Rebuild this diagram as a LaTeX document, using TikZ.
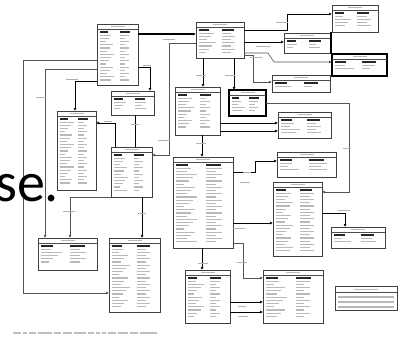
\documentclass[tikz,border=0pt]{standalone}
\usepackage{fontspec}
\newfontfamily\slidefont{Carlito}
\usetikzlibrary{arrows.meta,calc}

\tikzset{
  entbox/.style={draw=black!75, line width=0.8pt, fill=white, inner sep=0pt, outer sep=0pt},
  heavy/.style={line width=1.5pt, draw=black},
  rowink/.style={draw=gray!55, line width=1.1pt},
  headink/.style={draw=black!85, line width=1.3pt},
  conn/.style={draw=gray!65!black, line width=0.6pt},
  connk/.style={draw=black, line width=0.9pt},
  tip/.style={-{Latex[length=3pt,width=3pt]}},
  lbl/.style={draw=gray!60, line width=0.8pt}
}

% entity table: [style] name x1 y1 x2 y2 (pixel grid, y downwards)
\newcommand{\erent}[6][]{%
  \node[entbox,#1,anchor=north west,minimum width={(#5)-(#3)},minimum height={(#6)-(#4)}] (#2) at (#3,#4) {};
  \draw[line width=0.5pt,black!70] ($(#2.north west)+(0,5)$) -- ($(#2.north east)+(0,5)$);
  \draw[rowink,line width=0.8pt] ($(#2.north)+(-7,2.5)$) -- ($(#2.north)+(7,2.5)$);
  \pgfmathsetmacro\entw{(#5)-(#3)}
  \draw[headink] ($(#2.north west)+(3,8)$) -- ++(0.2*\entw,0);
  \draw[headink] ($(#2.north west)+(0.55*\entw,8)$) -- ++(0.25*\entw,0);
  \pgfmathtruncatemacro\entn{((#6)-(#4)-13)/3.2}
  \foreach \i in {1,...,\entn}{
    \pgfmathsetmacro\wl{\entw*(0.14+0.035*mod(\i*5+#3,7))}
    \pgfmathsetmacro\wr{\entw*(0.14+0.03*mod(\i*3+#4,6))}
    \draw[rowink] ($(#2.north west)+(3,8+3.2*\i)$) -- ++(\wl,0);
    \draw[rowink] ($(#2.north west)+(0.55*\entw,8+3.2*\i)$) -- ++(\wr,0);
  }
}

\begin{document}
\begin{tikzpicture}[x=1pt,y=-1pt]
\useasboundingbox (0,0) rectangle (399,338);

% Tables
\erent{eA}{97}{24}{138}{85}
\erent{eB}{111}{91}{154}{115}
\erent{eC}{57}{111}{96}{190}
\erent{eD}{111}{147}{152}{197}
\erent{eE}{175}{87}{220}{135}
\erent{eF}{332}{5}{378}{32}
\erent{eG}{196}{22}{244}{58}
\erent{eH}{284}{33}{330}{53}
\erent[heavy]{eI}{332}{54}{387}{76}
\erent{eJ}{272}{75}{330}{92}
\erent[heavy]{eK}{229}{90}{266}{116}
\erent{eL}{278}{112}{331}{138}
\erent{eM}{277}{152}{336}{177}
\erent{eN}{273}{182}{322}{256}
\erent{eO}{331}{227}{385}{248}
\erent{eS}{173}{157}{233}{248}
\erent{eR}{185}{270}{230}{323}
\erent{eP}{263}{270}{323}{323}
\erent{eT}{38}{238}{97}{270}
\erent{eU}{109}{238}{160}{312}

% Legend
\node[entbox,anchor=north west,minimum width=62,minimum height=24] (key) at (335,286) {};
\draw[line width=0.5pt,black!70] ($(key.north west)+(0,6)$) -- ($(key.north east)+(0,6)$);
\draw[rowink,line width=0.8pt] ($(key.north)+(-12,3)$) -- ($(key.north)+(12,3)$);
\foreach \r in {11,16,21}
  \draw[rowink] ($(key.north west)+(3,\r)$) -- ++(56,0);

% Connectors
\draw[connk,line width=1.2pt,tip] ($(eA.north east)+(0,10)$) -- ($(eG.north west)+(0,12)$);
\draw[conn,tip] ($(eG.north west)+(0,21)$) -| (169,155) -- ($(eD.north east)+(0,8)$);
\draw[conn,tip] ($(eA.north west)+(0,36)$) -| (23,293) -- ($(eU.north west)+(0,55)$);
\draw[conn,tip] ($(eA.north west)+(0,45)$) -| ($(eT.north west)+(7,0)$);
\draw[connk,tip] ($(eA.north west)+(0,57)$) -| ($(eC.north west)+(18,0)$);
\draw[connk,tip] ($(eA.north east)+(0,43)$) -| ($(eB.north east)+(-4,0)$);
\draw[connk] ($(eB.south west)+(24,0)$) -- ($(eD.north west)+(24,0)$);
\draw[connk,tip] ($(eD.north west)+(4,0)$) |- ($(eC.north east)+(0,12)$);
\draw[conn,tip] (eD.south west) -| ($(eT.north west)+(32,0)$);
\draw[connk,tip] ($(eD.south west)+(31,0)$) -- ($(eU.north west)+(33,0)$);
\draw[connk,tip] ($(eG.south west)+(7,0)$) -- ($(eE.north west)+(28,0)$);
\draw[connk,tip] ($(eG.south west)+(38,0)$) -- ($(eK.north west)+(5,0)$);
\draw[connk,tip] ($(eG.north east)+(0,8)$) -- (287,30) |- ($(eF.north west)+(0,9)$);
\draw[connk,tip] ($(eG.north east)+(0,20)$) -- ($(eH.north west)+(0,9)$);
\draw[conn,tip] ($(eG.north east)+(0,31)$) -- (268,53) -- (274,62) -- ($(eI.north west)+(0,8)$);
\draw[conn,tip] ($(eG.south east)+(0,-3)$) -| (253,82) -- ($(eJ.north west)+(0,7)$);
\draw[heavy] ($(eF.south west)+(-1,0)$) -- ($(eI.north west)+(-1,0)$);
\draw[conn,tip] ($(eK.north east)+(0,13)$) -| (349,192) -- ($(eN.north east)+(0,10)$);
\draw[connk,tip] ($(eE.north east)+(0,36)$) -- ($(eL.north west)+(0,11)$);
\draw[connk,tip] ($(eE.north east)+(0,44)$) -- ($(eL.north west)+(0,19)$);
\draw[connk,tip] ($(eS.north east)+(0,15)$) -| (255,161) -- ($(eM.north west)+(0,9)$);
\draw[connk,tip] ($(eS.north east)+(0,66)$) -- ($(eN.north west)+(0,41)$);
\draw[conn,tip] ($(eS.south east)+(0,-5)$) -| (243,278) -- ($(eP.north west)+(0,8)$);
\draw[connk,tip] ($(eN.north east)+(0,31)$) -| ($(eO.north west)+(14,0)$);
\draw[connk,tip] ($(eE.south west)+(27,0)$) -- ($(eS.north west)+(29,0)$);
\draw[connk,tip] ($(eS.south west)+(29,0)$) -- ($(eR.north west)+(17,0)$);
\draw[connk,tip] ($(eR.north east)+(0,32)$) -- ($(eP.north west)+(0,32)$);
\draw[connk,tip] ($(eR.north east)+(0,42)$) -- ($(eP.north west)+(0,42)$);

% connector labels
\foreach \lx/\ly/\lw in {163/39/12, 256/46/14, 276/22/12, 250/57/12, 143/65/8,
    66/79/12, 36/97/10, 131/124/8, 104/121/8, 63/211/12, 138/213/8, 158/140/12,
    196/75/10, 225/75/10, 233/228/12, 237/262/10, 338/210/12, 343/148/8,
    240/182/10, 238/306/8, 238/316/10, 198/263/10, 243/172/8, 196/143/10}
  \draw[lbl] (\lx,\ly) -- ++(\lw,0);

% caption
\foreach \cx/\cw in {13/8,23/4,29/7,38/14,54/7,63/9,74/12,88/6,96/4,102/4,108/8,118/10,130/8,140/17}
  \draw[lbl,gray!50,line width=1.1pt] (\cx,333) -- ++(\cw,0);

% slide text over the figure
\node[font=\slidefont\fontsize{56}{56}\selectfont,inner sep=0pt,anchor=base west] (slidetext) at (-5,201) {se.};
\end{tikzpicture}
\end{document}
